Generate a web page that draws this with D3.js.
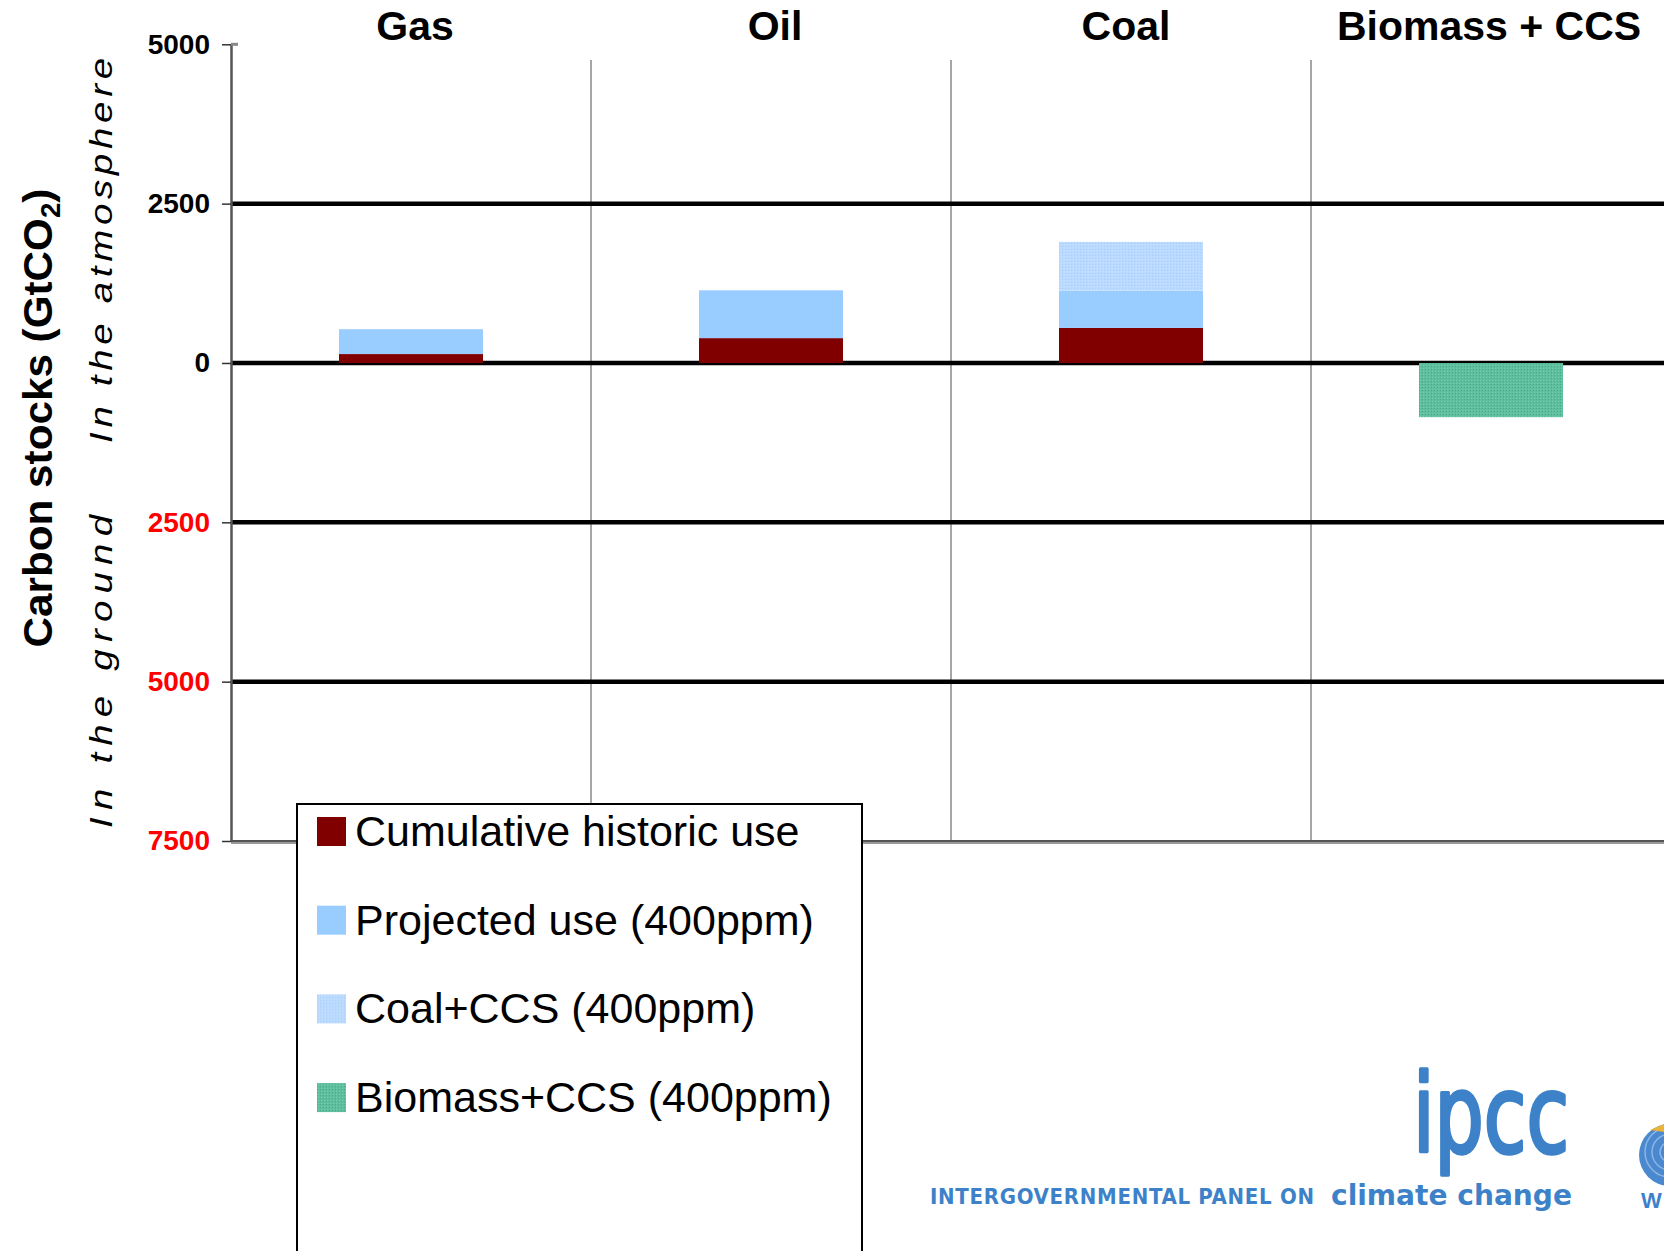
<!DOCTYPE html>
<html>
<head>
<meta charset="utf-8">
<script src="https://cdn.jsdelivr.net/npm/d3@7"></script>
<style>
  html, body { margin: 0; padding: 0; background: #fff; }
  svg { display: block; font-family: "Liberation Sans", Arial, sans-serif; }
</style>
</head>
<body>
<svg id="chart" width="1664" height="1251"></svg>
<script>
// ---------------- data ----------------
const categories = ["Gas", "Oil", "Coal", "Biomass + CCS"];
const historicUse = [140, 390, 550, 0];      // Cumulative historic use
const projectedUse = [390, 750, 585, 0];     // Projected use (400ppm)
const coalCCS = [0, 0, 765, 0];              // Coal+CCS (400ppm)
const biomassCCS = [0, 0, 0, -850];          // Biomass+CCS (400ppm)
const seriesKeys = ["historic", "projected", "coalCCS", "biomassCCS"];
const seriesLabels = ["Cumulative historic use", "Projected use (400ppm)", "Coal+CCS (400ppm)", "Biomass+CCS (400ppm)"];
const yTicks = [5000, 2500, 0, -2500, -5000, -7500];
const gridValues = [2500, 0, -2500, -5000];

// ---------------- setup ----------------
const W = 1664, H = 1251;
const svg = d3.select("#chart");
const plotLeft = 231, plotRight = 1671, plotTop = 44.3, plotBottom = 841;

const y = d3.scaleLinear().domain([5000, -7500]).range([plotTop, plotBottom]);
const xCat = d3.scaleBand().domain(categories).range([plotLeft, plotRight]).padding(0);
const xBar = d3.scaleBand().domain(categories).range([plotLeft, plotRight]).paddingInner(0.6).paddingOuter(0.3);

const table = categories.map((c, i) => ({
  cat: c, historic: historicUse[i], projected: projectedUse[i], coalCCS: coalCCS[i], biomassCCS: biomassCCS[i]
}));
const stacked = d3.stack().keys(seriesKeys).offset(d3.stackOffsetDiverging)(table);

// patterns
const defs = svg.append("defs");
const pCoal = defs.append("pattern").attr("id", "patCoal").attr("width", 3).attr("height", 3).attr("patternUnits", "userSpaceOnUse");
pCoal.append("rect").attr("width", 3).attr("height", 3).attr("fill", "#BBDAFF");
pCoal.append("rect").attr("x", 0).attr("y", 0).attr("width", 1).attr("height", 1).attr("fill", "#A9CDF7");
pCoal.append("rect").attr("x", 2).attr("y", 1).attr("width", 1).attr("height", 1).attr("fill", "#C6E0FF");
const pBio = defs.append("pattern").attr("id", "patBio").attr("width", 3).attr("height", 3).attr("patternUnits", "userSpaceOnUse");
pBio.append("rect").attr("width", 3).attr("height", 3).attr("fill", "#5EBF9E");
pBio.append("rect").attr("x", 0).attr("y", 0).attr("width", 1).attr("height", 1).attr("fill", "#48A98A");
pBio.append("rect").attr("x", 1).attr("y", 2).attr("width", 1).attr("height", 1).attr("fill", "#7BCDB2");
const fills = { historic: "#800000", projected: "#99CCFF", coalCCS: "url(#patCoal)", biomassCCS: "url(#patBio)" };

svg.append("rect").attr("width", W).attr("height", H).attr("fill", "#fff");

// vertical category separators
svg.append("g").selectAll("line")
  .data(categories.slice(1).map(c => xCat(c)).concat([xCat(categories[3]) + xCat.bandwidth()]))
  .join("line")
  .attr("x1", d => d).attr("x2", d => d)
  .attr("y1", 60).attr("y2", plotBottom)
  .attr("stroke", "#888").attr("stroke-width", 1.5);

// thick horizontal lines
svg.append("g").selectAll("line").data(gridValues).join("line")
  .attr("x1", plotLeft).attr("x2", plotRight)
  .attr("y1", d => y(d)).attr("y2", d => y(d))
  .attr("stroke", "#000").attr("stroke-width", 4.5);

// bars
svg.append("g").selectAll("g").data(stacked).join("g")
  .attr("fill", d => fills[d.key])
  .selectAll("rect").data(d => d.filter(v => v[1] - v[0] !== 0)).join("rect")
  .attr("x", d => xBar(d.data.cat))
  .attr("width", xBar.bandwidth())
  .attr("y", d => y(Math.max(d[0], d[1])))
  .attr("height", d => Math.abs(y(d[0]) - y(d[1])));

// bottom axis double line
svg.append("line").attr("x1", plotLeft).attr("x2", plotRight).attr("y1", y(-7500)).attr("y2", y(-7500))
  .attr("stroke", "#555").attr("stroke-width", 2);
svg.append("line").attr("x1", plotLeft).attr("x2", plotRight).attr("y1", y(-7500) + 2).attr("y2", y(-7500) + 2)
  .attr("stroke", "#999").attr("stroke-width", 2);

// left axis
const axis = d3.axisLeft(y).tickValues(yTicks).tickSize(9).tickSizeOuter(0).tickPadding(12)
  .tickFormat(d => String(Math.abs(d)));
const gAxis = svg.append("g").attr("transform", `translate(${plotLeft},0)`).call(axis);
gAxis.select(".domain").attr("stroke", "#555").attr("stroke-width", 2.5);
gAxis.selectAll(".tick line").attr("stroke", "#333").attr("stroke-width", 1.5);
gAxis.selectAll(".tick text")
  .attr("fill", d => d < 0 ? "#FF0000" : "#000")
  .attr("font-family", "'Liberation Sans', Arial, sans-serif")
  .attr("font-weight", "bold").attr("font-size", 28);
svg.append("rect").attr("x", plotLeft).attr("y", y(5000) - 1.5).attr("width", 7).attr("height", 3).attr("fill", "#888");

// category titles
svg.append("g").selectAll("text").data(categories).join("text")
  .attr("x", d => xCat(d) + xCat.bandwidth() / 2 + (d === "Gas" ? 4 : d === "Oil" ? 4 : d === "Coal" ? -5 : -2))
  .attr("y", 40)
  .attr("text-anchor", "middle").attr("font-weight", "bold").attr("font-size", 41)
  .text(d => d);

// y axis title
const yt = svg.append("text")
  .attr("transform", "translate(52,418) rotate(-90) scale(1.03,1)")
  .attr("text-anchor", "middle").attr("font-weight", "bold").attr("font-size", 41);
yt.append("tspan").text("Carbon stocks (GtCO");
yt.append("tspan").attr("font-size", 27).attr("dy", 8).text("2");
yt.append("tspan").attr("dy", -8).text(")");

// italic region labels
svg.append("text")
  .attr("transform", "translate(112,250.5) rotate(-90) scale(1.2,1)")
  .attr("text-anchor", "middle").attr("font-style", "italic").attr("font-size", 32)
  .attr("textLength", 385 / 1.2).attr("lengthAdjust", "spacing")
  .text("In the atmosphere");
svg.append("text")
  .attr("transform", "translate(112,671.5) rotate(-90) scale(1.2,1)")
  .attr("text-anchor", "middle").attr("font-style", "italic").attr("font-size", 32)
  .attr("textLength", 313 / 1.2).attr("lengthAdjust", "spacing")
  .text("In the ground");

// legend
const lg = svg.append("g");
lg.append("rect").attr("x", 297).attr("y", 804).attr("width", 565).attr("height", 520)
  .attr("fill", "#fff").attr("stroke", "#000").attr("stroke-width", 2);
const items = lg.selectAll("g.item").data(seriesKeys).join("g").attr("class", "item")
  .attr("transform", (d, i) => `translate(317,${817 + i * 88.7})`);
items.append("rect").attr("width", 29).attr("height", 29).attr("fill", d => fills[d]);
items.append("text").attr("x", 38).attr("y", 29).attr("font-size", 43).attr("fill", "#000")
  .text((d, i) => seriesLabels[i]);

// IPCC logo
const blue = "#3D82C9";
const logo = svg.append("g").attr("fill", blue)
  .attr("font-family", "'DejaVu Sans Condensed', 'DejaVu Sans', sans-serif");
logo.append("text").attr("x", 1413).attr("y", 1152).attr("font-size", 108)
  .attr("stroke", blue).attr("stroke-width", 3.5).attr("stroke-linejoin", "round")
  .attr("textLength", 156).attr("lengthAdjust", "spacingAndGlyphs").text("ipcc");
logo.append("text").attr("x", 930).attr("y", 1204).attr("font-size", 22).attr("font-weight", "bold")
  .attr("textLength", 384).attr("lengthAdjust", "spacing").text("INTERGOVERNMENTAL PANEL ON");
logo.append("text").attr("x", 1331).attr("y", 1205).attr("font-size", 28).attr("font-weight", "bold")
  .attr("textLength", 241).attr("lengthAdjust", "spacingAndGlyphs").text("climate change");
// partial emblem at right edge
const em = svg.append("g");
em.append("circle").attr("cx", 1670).attr("cy", 1155).attr("r", 31).attr("fill", "#4A88CF");
[10, 18, 25].forEach(r => em.append("circle").attr("cx", 1670).attr("cy", 1152).attr("r", r)
  .attr("fill", "none").attr("stroke", "#8DB5E3").attr("stroke-width", 1.5));
em.append("path").attr("d", "M1650,1130 L1664,1124 L1664,1132 Z").attr("fill", "#E8B43A");
em.append("text").attr("x", 1641).attr("y", 1208).attr("font-size", 22).attr("font-weight", "bold")
  .attr("fill", blue).text("W");
</script>
</body>
</html>
